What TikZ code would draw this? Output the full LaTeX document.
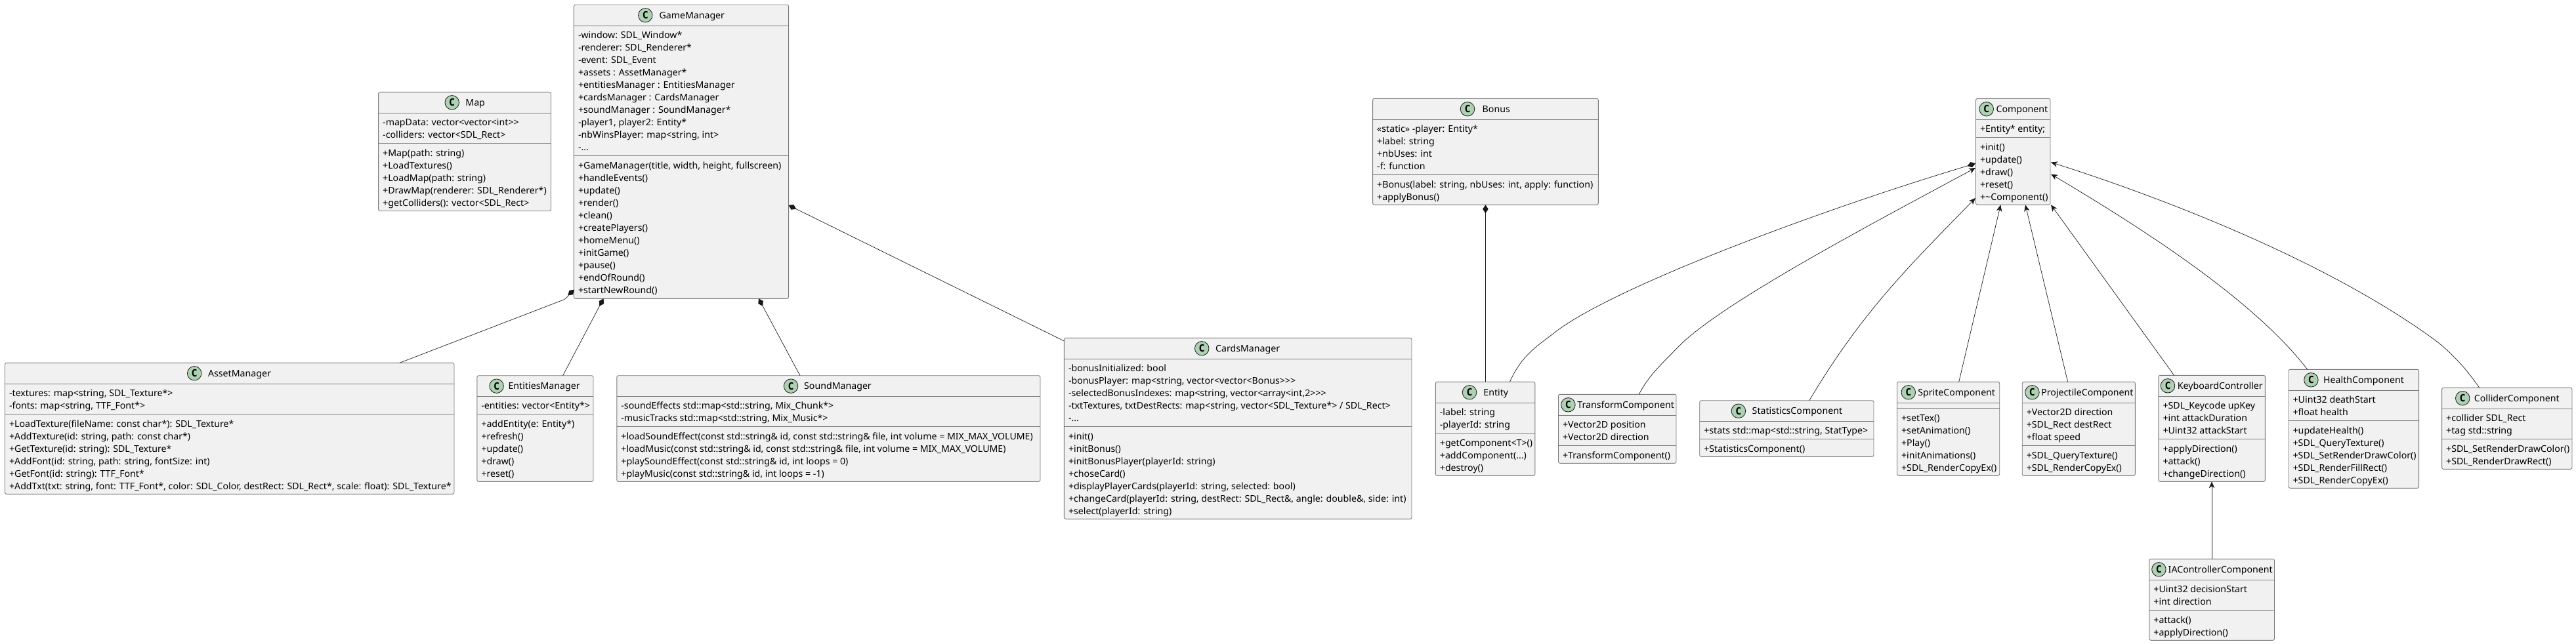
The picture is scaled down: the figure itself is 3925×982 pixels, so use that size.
\documentclass[tikz,border=0pt]{standalone}
\usepackage{fontspec}
\setmainfont{Noto Sans}[FakeStretch=1.012]
\newfontfamily\spotfont{DejaVu Sans Mono}
\usetikzlibrary{arrows.meta,calc}
\definecolor{boxfill}{HTML}{F1F1F1}
\definecolor{boxline}{HTML}{7A7A7A}
\definecolor{spotfill}{HTML}{ADD1B2}
\definecolor{ink}{HTML}{181818}
\tikzset{
  classbox/.style={draw=boxline,fill=boxfill,line width=0.9pt,rounded corners=2.5pt,inner sep=0pt,outer sep=0pt,anchor=north west},
  sepline/.style={draw=boxline,line width=0.9pt},
  spot/.style={circle,draw=ink,fill=spotfill,line width=0.8pt,minimum size=21.5pt,inner sep=0pt,font=\fontsize{15}{19}\spotfont\bfseries},
  titletext/.style={inner sep=0pt,anchor=base west,font=\fontsize{14}{19}\selectfont},
  memberlist/.style={inner sep=0pt,outer sep=0pt,anchor=north west,align=left,font=\fontsize{14}{19}\selectfont},
  link/.style={draw=ink,line width=0.7pt},
  compose/.style={link,{Diamond[length=13pt,width=8.5pt]}-},
  inherit/.style={link,-{Stealth[length=10pt,width=8.5pt,inset=3pt]}}
}
\newcommand{\umlclass}[7]{%
  \node[classbox,minimum width={(#3-#2)*1pt},minimum height={(#7-#4)*1pt}] (#1) at (#2,#4) {};
  \draw[sepline] (#2,#5) -- (#3,#5);
  \draw[sepline] (#2,#6) -- (#3,#6);
  \coordinate (#1-a) at (#2+6.6,#5+4);
  \coordinate (#1-m) at (#2+6.6,#6+4.8);
}
\newcommand{\umltitle}[4]{%
  \node[spot] (#1-spot) at ($(#1.north west)+(#2,16)$) {C};
  \node[titletext] (#1-title) at ($(#1.north west)+(#3,21)$) {#4};
}
\newcommand{\umlattrs}[2]{\node[memberlist] (#1-attrs) at (#1-a) {\rule{0pt}{15pt}#2};}
\newcommand{\umlmeths}[2]{\node[memberlist] (#1-meths) at (#1-m) {\rule{0pt}{15pt}#2};}
\begin{document}
\begin{tikzpicture}[x=1pt,y=-1pt]
\useasboundingbox (0,0) rectangle (3925,982);

\umlclass{gm}{874.4}{1201.6}{7.3}{39.3}{237.7}{455.3}
\umltitle{gm}{108.9}{129.9}{GameManager}
\umlattrs{gm}{-window: SDL\_Window*\\-renderer: SDL\_Renderer*\\-event: SDL\_Event\\+assets : AssetManager*\\+entitiesManager : EntitiesManager\\+cardsManager : CardsManager\\+soundManager : SoundManager*\\-player1, player2: Entity*\\-nbWinsPlayer: map<string, int>\\-...}
\umlmeths{gm}{+GameManager(title, width, height, fullscreen)\\+handleEvents()\\+update()\\+render()\\+clean()\\+createPlayers()\\+homeMenu()\\+initGame()\\+pause()\\+endOfRound()\\+startNewRound()}

\umlclass{map}{576.6}{839.5}{140.3}{172.7}{218.7}{321.7}
\umltitle{map}{112.1}{132.6}{Map}
\umlattrs{map}{-mapData: vector<vector<int>{}>\\-colliders: vector<SDL\_Rect>}
\umlmeths{map}{+Map(path: string)\\+LoadTextures()\\+LoadMap(path: string)\\+DrawMap(renderer: SDL\_Renderer*)\\+getColliders(): vector<SDL\_Rect>}

\umlclass{asset}{7.5}{692}{553.3}{585.3}{631.3}{753.3}
\umltitle{asset}{288.7}{309.4}{AssetManager}
\umlattrs{asset}{-textures: map<string, SDL\_Texture*>\\-fonts: map<string, TTF\_Font*>}
\umlmeths{asset}{+LoadTexture(fileName: const char*): SDL\_Texture*\\+AddTexture(id: string, path: const char*)\\+GetTexture(id: string): SDL\_Texture*\\+AddFont(id: string, path: string, fontSize: int)\\+GetFont(id: string): TTF\_Font*\\+AddTxt(txt: string, font: TTF\_Font*, color: SDL\_Color, destRect: SDL\_Rect*, scale: float): SDL\_Texture*}

\umlclass{ents}{726.8}{904}{572.7}{604.3}{631.3}{734.3}
\umltitle{ents}{29.8}{47.6}{EntitiesManager}
\umlattrs{ents}{-entities: vector<Entity*>}
\umlmeths{ents}{+addEntity(e: Entity*)\\+refresh()\\+update()\\+draw()\\+reset()}

\umlclass{sound}{939.8}{1585}{572.7}{604.3}{650.3}{734.3}
\umltitle{sound}{265.3}{285.2}{SoundManager}
\umlattrs{sound}{-soundEffects std::map<std::string, Mix\_Chunk*>\\-musicTracks std::map<std::string, Mix\_Music*>}
\umlmeths{sound}{+loadSoundEffect(const std::string\& id, const std::string\& file, int volume = MIX\_MAX\_VOLUME)\\+loadMusic(const std::string\& id, const std::string\& file, int volume = MIX\_MAX\_VOLUME)\\+playSoundEffect(const std::string\& id, int loops = 0)\\+playMusic(const std::string\& id, int loops = -1)}

\umlclass{cards}{1621.4}{2151}{515.3}{547.3}{650.3}{791.3}
\umltitle{cards}{209.8}{230.5}{CardsManager}
\umlattrs{cards}{-bonusInitialized: bool\\-bonusPlayer: map<string, vector<vector<Bonus>{}>{}>\\-selectedBonusIndexes: map<string, vector<array<int,2>{}>{}>\\-txtTextures, txtDestRects: map<string, vector<SDL\_Texture*> / SDL\_Rect>\\-...}
\umlmeths{cards}{+init()\\+initBonus()\\+initBonusPlayer(playerId: string)\\+choseCard()\\+displayPlayerCards(playerId: string, selected: bool)\\+changeCard(playerId: string, destRect: SDL\_Rect\&, angle: double\&, side: int)\\+select(playerId: string)}

\umlclass{bonus}{2091.6}{2435.3}{150.3}{182.3}{266.3}{312.3}
\umltitle{bonus}{144.4}{166.9}{Bonus}
\umlattrs{bonus}{«static» -player: Entity*\\+label: string\\+nbUses: int\\-f: function}
\umlmeths{bonus}{+Bonus(label: string, nbUses: int, apply: function)\\+applyBonus()}

\umlclass{comp}{3010.5}{3124}{150.3}{182.3}{209.3}{312.3}
\umltitle{comp}{16.2}{30.9}{Component}
\umlattrs{comp}{+Entity* entity;}
\umlmeths{comp}{+init()\\+update()\\+draw()\\+reset()\\+\textasciitilde Component()}

\umlclass{entity}{2187.3}{2338.9}{582.3}{614.3}{660.3}{725.3}
\umltitle{entity}{51.7}{72.9}{Entity}
\umlattrs{entity}{-label: string\\-playerId: string}
\umlmeths{entity}{+getComponent<T>()\\+addComponent(...)\\+destroy()}

\umlclass{trans}{2374.5}{2554}{601.3}{633.3}{679.3}{706.3}
\umltitle{trans}{14.9}{28.7}{TransformComponent}
\umlattrs{trans}{+Vector2D position\\+Vector2D direction}
\umlmeths{trans}{+TransformComponent()}

\umlclass{stats}{2589.7}{2855}{610.7}{642.3}{669.3}{696.3}
\umltitle{stats}{59.2}{79.8}{StatisticsComponent}
\umlattrs{stats}{+stats std::map<std::string, StatType>}
\umlmeths{stats}{+StatisticsComponent()}

\umlclass{sprite}{2890.5}{3046.7}{582.3}{614.3}{622.3}{725.3}
\umltitle{sprite}{17.3}{31.6}{SpriteComponent}
\umlmeths{sprite}{+setTex()\\+setAnimation()\\+Play()\\+initAnimations()\\+SDL\_RenderCopyEx()}

\umlclass{proj}{3081.2}{3253.3}{582.3}{614.3}{679.3}{725.3}
\umltitle{proj}{15.2}{28.8}{ProjectileComponent}
\umlattrs{proj}{+Vector2D direction\\+SDL\_Rect destRect\\+float speed}
\umlmeths{proj}{+SDL\_QueryTexture()\\+SDL\_RenderCopyEx()}

\umlclass{keyb}{3288.9}{3451.4}{572.3}{604.3}{669.3}{734.3}
\umltitle{keyb}{14.1}{28.7}{KeyboardController}
\umlattrs{keyb}{+SDL\_Keycode upKey\\+int attackDuration\\+Uint32 attackStart}
\umlmeths{keyb}{+applyDirection()\\+attack()\\+changeDirection()}

\umlclass{health}{3487}{3685.6}{563.3}{595.3}{641.3}{744.3}
\umltitle{health}{34.4}{53}{HealthComponent}
\umlattrs{health}{+Uint32 deathStart\\+float health}
\umlmeths{health}{+updateHealth()\\+SDL\_QueryTexture()\\+SDL\_SetRenderDrawColor()\\+SDL\_RenderFillRect()\\+SDL\_RenderCopyEx()}

\umlclass{coll}{3720.6}{3919}{591.3}{623.3}{669.3}{715.3}
\umltitle{coll}{31.6}{49.1}{ColliderComponent}
\umlattrs{coll}{+collider SDL\_Rect\\+tag std::string}
\umlmeths{coll}{+SDL\_SetRenderDrawColor()\\+SDL\_RenderDrawRect()}

\umlclass{ia}{3274.8}{3465.5}{852.3}{884.3}{930.3}{976.3}
\umltitle{ia}{14.6}{28.7}{IAControllerComponent}
\umlattrs{ia}{+Uint32 decisionStart\\+int direction}
\umlmeths{ia}{+attack()\\+applyDirection()}

% compositions
\draw[compose] ($(gm.south west)+(0.6,-13.6)$) .. controls (868,448) and (866,452.5) .. (859,457) -- ($(asset.north west)+(601.5,0)$);
\draw[compose] ($(gm.south west)+(45.1,0)$) -- ($(ents.north west)+(130.8,0)$);
\draw[compose] ($(gm.south west)+(281.6,0)$) -- ($(sound.north west)+(279.2,0)$);
\draw[compose] ($(gm.south east)+(0,-142.3)$) -- ($(cards.north west)+(0,4.7)$);
\draw[compose] ($(bonus.south west)+(171.8,0)$) -- ($(entity.north west)+(76.1,0)$);
\draw[compose] ($(comp.north west)+(-0.5,99)$) .. controls (2780,318) and (2450,440) .. (2365,510) .. controls (2340,529) and (2318,543) .. ($(entity.north west)+(113.1,0)$);

% inheritance
\draw[inherit] ($(trans.north west)+(122.8,0)$) .. controls (2512,572) and (2535,552) .. (2556,530) .. controls (2620,463) and (2860,337) .. ($(comp.north west)+(-0.5,105.7)$);
\draw[inherit] ($(stats.north west)+(167.1,0)$) .. controls (2840,470) and (2920,395) .. ($(comp.north west)+(-0.7,151.7)$);
\draw[inherit] ($(sprite.north west)+(94.2,0)$) -- ($(comp.south west)+(37.8,0)$);
\draw[inherit] ($(proj.north west)+(69.4,0)$) -- ($(comp.south west)+(75.5,0)$);
\draw[inherit] ($(keyb.north west)+(23.7,0)$) -- ($(comp.south east)+(1,0)$);
\draw[inherit] ($(health.north west)+(28.7,0)$) .. controls (3430,452) and (3250,340) .. ($(comp.north east)+(1,115.2)$);
\draw[inherit] ($(coll.north west)+(57,0)$) .. controls (3758,562) and (3733,535.5) .. (3708,517) .. controls (3540,395) and (3290,300) .. ($(comp.north east)+(1,97.2)$);
\draw[inherit] ($(ia.north west)+(95.2,0)$) -- ($(keyb.south west)+(81.1,0)$);
\end{tikzpicture}
\end{document}
